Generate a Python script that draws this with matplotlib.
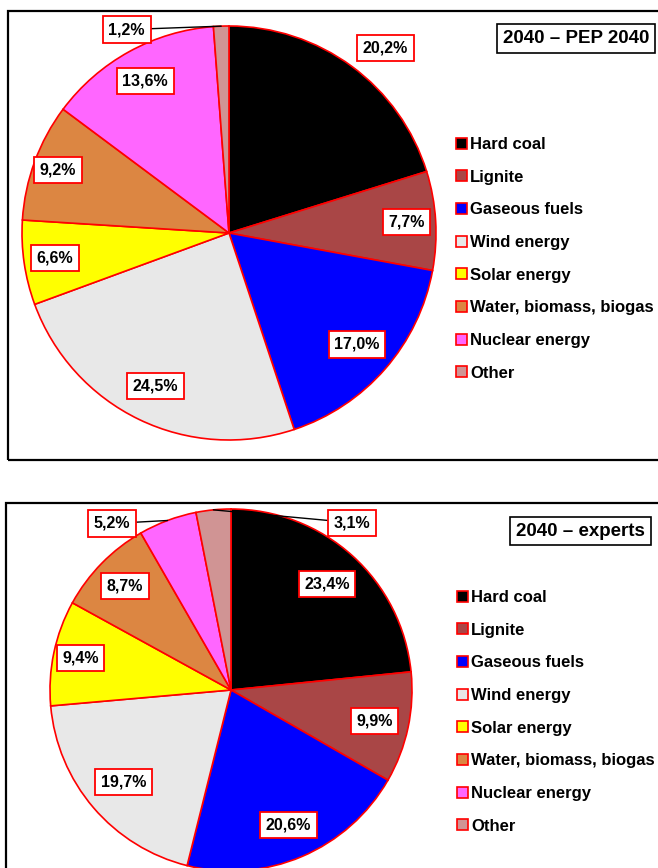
import numpy as np
import matplotlib.pyplot as plt
from matplotlib.patches import Rectangle

# data
sources = ['Hard coal', 'Lignite', 'Gaseous fuels', 'Wind energy', 'Solar energy',
           'Water, biomass, biogas', 'Nuclear energy', 'Other']
colors = ['#000000', '#A94646', '#0000FF', '#E8E8E8', '#FFFF00', '#DC8642', '#FF66FF', '#D09494']
pep_2040 = [20.2, 7.7, 17.0, 24.5, 6.6, 9.2, 13.6, 1.2]
experts_2040 = [23.4, 9.9, 20.6, 19.7, 9.4, 8.7, 5.2, 3.1]

FONT = ['Liberation Sans', 'DejaVu Sans']
W, H = 658, 868

fig = plt.figure(figsize=(W / 100, H / 100), dpi=100)


def px_axes(cx, cy, r):
    # square axes in pixel units, pie of radius 1 fills it
    return fig.add_axes([(cx - r) / W, (H - cy - r) / H, 2 * r / W, 2 * r / H])


#FUNCTION TO DRAW ONE PANEL
def draw_panel(ax, values, label_r, overrides, title, title_xy, legend_xy):
    wedges, _ = ax.pie(values, colors=colors, startangle=90, counterclock=False,
                       wedgeprops=dict(edgecolor='red', linewidth=1.2))
    ax.set_xlim(-1, 1)
    ax.set_ylim(-1, 1)
    ax.axis('off')

    box = dict(boxstyle='square,pad=0.35', fc='white', ec='red', lw=1.3)
    for i, (w, v) in enumerate(zip(wedges, values)):
        mid = np.deg2rad((w.theta1 + w.theta2) / 2)
        txt = f"{v:.1f}%".replace('.', ',')
        if i in overrides:
            ang, r, leader = overrides[i]
            a = np.deg2rad(ang)
            pos = (r * np.cos(a), r * np.sin(a))
        else:
            leader = False
            pos = (label_r[i] * np.cos(mid), label_r[i] * np.sin(mid))
        if leader:
            ax.annotate(txt, xy=(np.cos(mid), np.sin(mid)), xytext=pos,
                        ha='center', va='center', fontsize=11.5, fontweight='bold',
                        family=FONT, bbox=box, annotation_clip=False,
                        arrowprops=dict(arrowstyle='-', color='black', lw=1,
                                        shrinkA=0, shrinkB=0))
        else:
            ax.text(pos[0], pos[1], txt, ha='center', va='center', fontsize=11.5,
                    fontweight='bold', family=FONT, bbox=box, clip_on=False)

    fig.text(title_xy[0] / W, 1 - title_xy[1] / H, title, ha='center', va='center',
             fontsize=13.5, fontweight='bold', family=FONT,
             bbox=dict(boxstyle='square,pad=0.3', fc='white', ec='black', lw=1.2))

    leg = fig.legend(wedges, sources, loc='upper left',
                     bbox_to_anchor=(legend_xy[0] / W, 1 - legend_xy[1] / H),
                     bbox_transform=fig.transFigure, frameon=False,
                     prop=dict(family=FONT, weight='bold', size=12),
                     handlelength=0.65, handleheight=0.65, handletextpad=0.2,
                     labelspacing=1.06, borderpad=0, borderaxespad=0)
    return leg


# panel frames
fig.add_artist(Rectangle((8 / W, 1 - 460 / H), 700 / W, 449 / H, transform=fig.transFigure,
                         fill=False, ec='black', lw=1.6))
fig.add_artist(Rectangle((6 / W, -0.05), 700 / W, 1 - 503 / H + 0.05, transform=fig.transFigure,
                         fill=False, ec='black', lw=1.6))

ax1 = px_axes(229, 233, 207)
draw_panel(ax1, pep_2040, [0.84, 0.86, 0.82, 0.82, 0.85, 0.88, 0.84, 0.84],
           {0: (49.8, 1.17, False), 7: (116.7, 1.10, True)},
           '2040 – PEP 2040', (576, 38.5), (456, 137))

ax2 = px_axes(231, 690, 181)
draw_panel(ax2, experts_2040, [0.79, 0.81, 0.81, 0.78, 0.85, 0.82, 0.8, 0.8],
           {6: (125.5, 1.13, True), 7: (54.2, 1.14, True)},
           '2040 – experts', (580.5, 531), (457, 590))

fig.savefig('out.png', dpi=100)
